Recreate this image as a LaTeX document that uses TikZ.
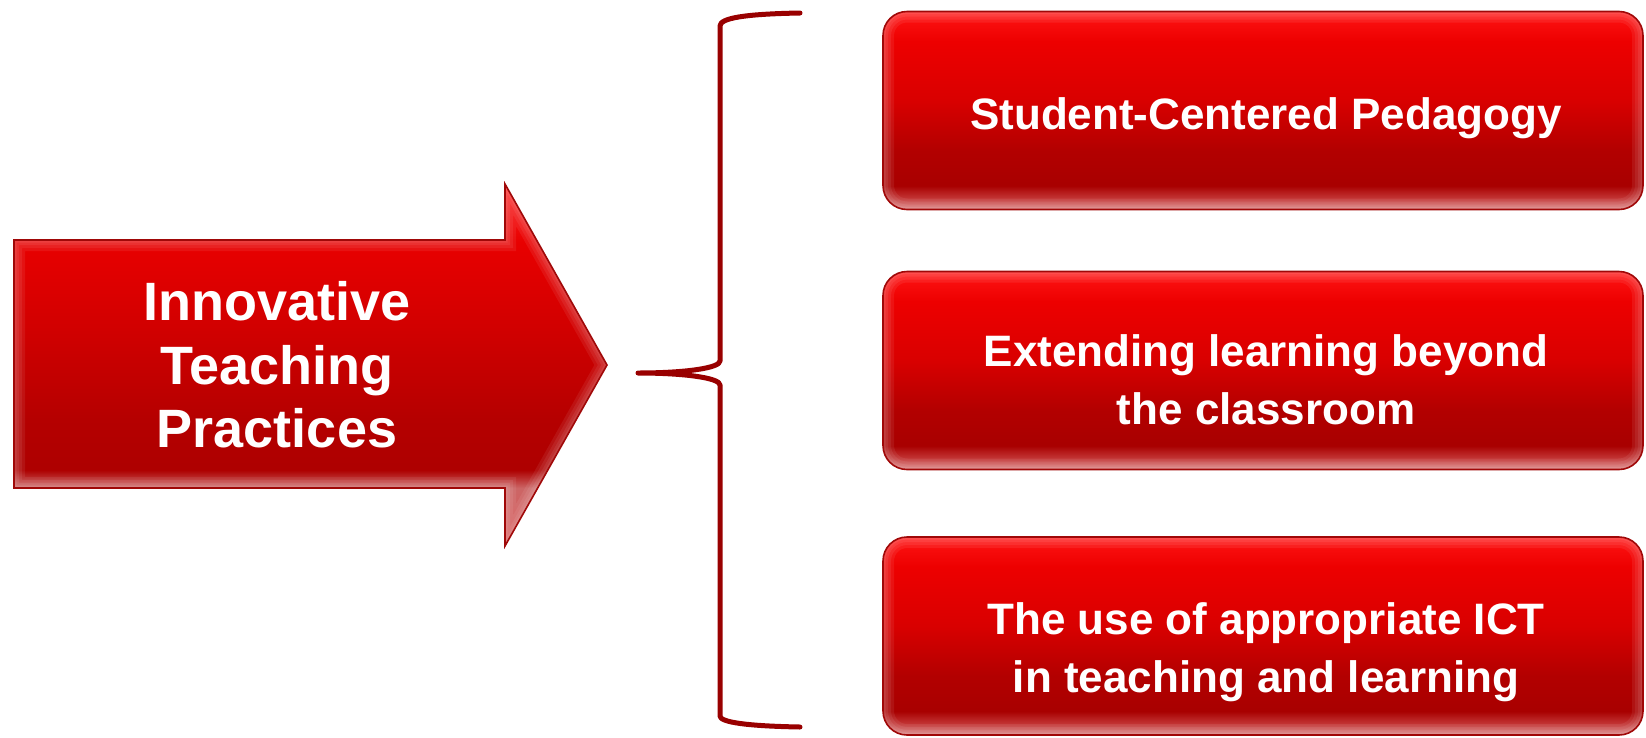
\documentclass[tikz,border=0pt]{standalone}
\usepackage{fontspec}
\setmainfont{Liberation Sans}
\definecolor{rimred}{HTML}{A00808}
\definecolor{bracered}{HTML}{990000}
\pgfdeclareverticalshading{boxshade}{100bp}{color(0bp)=(red!45!white!85!black); color(25bp)=(red!45!white!85!black); color(28bp)=(red!70!black!80!white); color(31bp)=(red!66!black); color(40bp)=(red!70!black); color(52.5bp)=(red!85!black); color(67.5bp)=(red!93!black); color(75bp)=(red!92!white); color(100bp)=(red!92!white)}
\pgfdeclareverticalshading{arrowshade}{100bp}{color(0bp)=(red!60!white!85!black); color(25bp)=(red!60!white!85!black); color(33bp)=(red!50!white!80!black); color(35.5bp)=(red!68!black); color(42.5bp)=(red!71!black); color(55bp)=(red!82!black); color(67bp)=(red!91!black); color(75bp)=(red!85!white); color(100bp)=(red!85!white)}
\tikzset{
  redbox/.style={draw=rimred, line width=1.6pt, rounded corners=24pt, shading=boxshade, minimum width=760pt, minimum height=198pt, inner sep=0pt,
    path picture={\foreach \w in {22,16,10,5}{\draw[white, opacity=0.07, line width=\w pt, rounded corners=24pt] (path picture bounding box.south west) rectangle (path picture bounding box.north east);}}},
  boxtext/.style={text=white, align=center, inner sep=0pt, font=\bfseries\fontsize{44}{58}\selectfont},
  arrowtext/.style={text=white, align=center, inner sep=0pt, font=\bfseries\fontsize{54}{63.5}\selectfont},
  bracestyle/.style={draw=bracered, line width=5pt, line cap=round, line join=round},
  arrowglow/.style={white, opacity=0.07, line join=miter}
}
\def\arrowpath{(14,240) -- (505,240) -- (505,184) -- (607,365) -- (505,546) -- (505,488) -- (14,488) -- cycle}
\begin{document}
\begin{tikzpicture}[x=1pt,y=-1pt]
\useasboundingbox (0,0) rectangle (1646,737);
% arrow
\shade[shading=arrowshade] \arrowpath;
\begin{scope}
  \clip \arrowpath;
  \foreach \w in {22,16,10,5}{\draw[arrowglow, line width=\w pt] \arrowpath;}
\end{scope}
\draw[rimred, line width=1.6pt] \arrowpath;
\node[arrowtext] (atext) at (277,365) {Innovative\\Teaching\\Practices};
% brace
\draw[bracestyle] (800,13) .. controls (745,14) and (720,18) .. (720,26) -- (720,361)
  .. controls (720,368) and (685,373) .. (638,373)
  .. controls (685,373) and (720,378) .. (720,385) -- (720,716)
  .. controls (720,722) and (745,726) .. (800,727);
% boxes
\node[redbox] (b1) at (1263,110.5) {};
\node[redbox] (b2) at (1263,370.5) {};
\node[redbox] (b3) at (1263,636) {};
\node[boxtext] (t1) at (1266,118) {Student-Centered Pedagogy};
\node[boxtext] (t2) at (1266,380) {Extending learning beyond\\the classroom};
\node[boxtext] (t3) at (1266,652) {The use of appropriate ICT\\in teaching and learning};
\end{tikzpicture}
\end{document}
